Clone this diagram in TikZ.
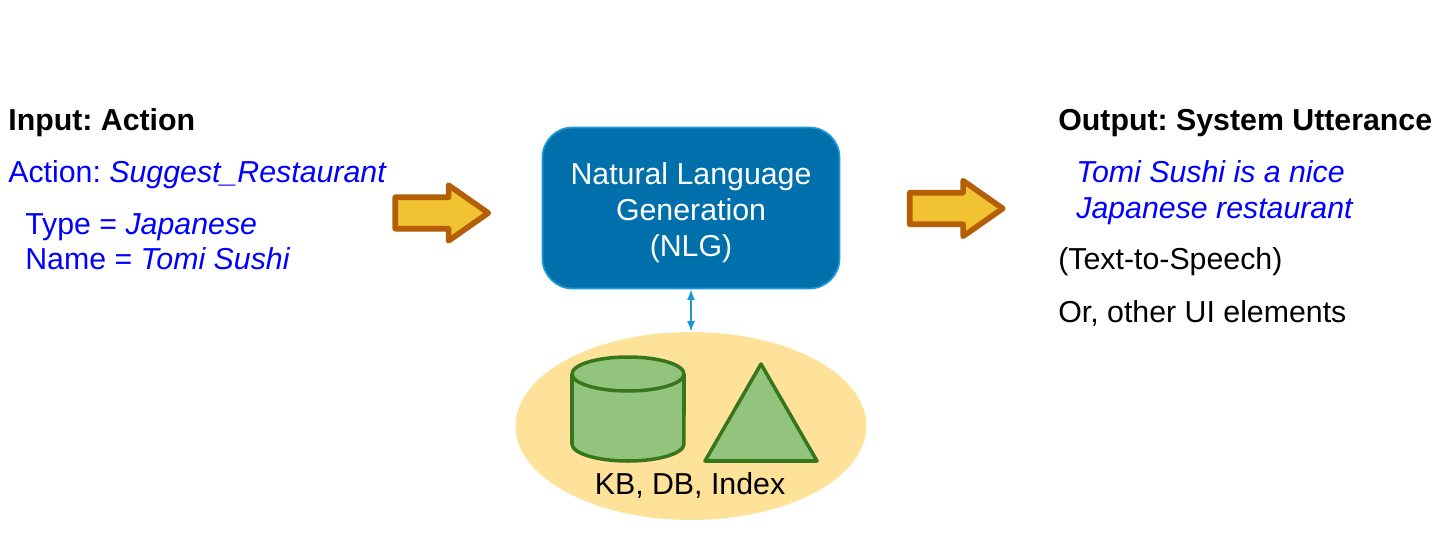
\documentclass[tikz,border=0pt]{standalone}
\usepackage{fontspec}
\setmainfont{Liberation Sans}
\usetikzlibrary{positioning,shapes.geometric,shapes.arrows,arrows.meta}

\definecolor{nlgfill}{HTML}{0070AD}
\definecolor{nlgline}{HTML}{1B98D5}
\definecolor{kbfill}{HTML}{FFE299}
\definecolor{storefill}{HTML}{93C47D}
\definecolor{storeline}{HTML}{38761D}
\definecolor{arrowfill}{HTML}{F1C232}
\definecolor{arrowline}{HTML}{B45F06}
\definecolor{inputblue}{HTML}{0000FF}

\newcommand{\labelfont}{\fontsize{17.25}{20.4}\selectfont\frenchspacing}

\tikzset{
  textlabel/.style={anchor=base west, inner sep=0pt, font=\labelfont},
  bluelabel/.style={textlabel, text=inputblue},
  flowarrow/.style={single arrow, draw=arrowline, fill=arrowfill, line width=3.2pt, line join=round,
    minimum width=1.0cm, minimum height=1.86cm, single arrow head extend=0.24cm, single arrow tip angle=70,
    single arrow head indent=0cm, inner xsep=0pt, inner ysep=0.26cm},
  store/.style={draw=storeline, fill=storefill, line width=2pt, line join=round},
}

\begin{document}
\begin{tikzpicture}[x=0.02cm,y=-0.02cm]
\useasboundingbox (0,0) rectangle (1441,551);

% left column
\node [textlabel, font=\labelfont\bfseries] (input) at (8,130) {Input: Action};
\node [bluelabel] (action) at (8,182.5) {Action: \textit{Suggest\_Restaurant}};
\node [bluelabel] (type) at (25,234.5) {Type = \textit{Japanese}};
\node [bluelabel] (name) at (25,269.5) {Name = \textit{Tomi Sushi}};

% centre
\node [draw=nlgline, fill=nlgfill, line width=1pt, rounded corners=0.6cm,
  minimum width=5.94cm, minimum height=3.22cm] (nlg) at (691,208) {};
\node [text=white, align=center, inner sep=0pt, font=\labelfont] (nlgtext) at (691,212.5)
  {Natural Language\\Generation\\(NLG)};
\node [ellipse, fill=kbfill, minimum width=7.02cm, minimum height=3.76cm, inner sep=0pt] (kb) at (691,426) {};
\draw [{Latex[length=6pt,width=4.5pt]}-{Latex[length=6pt,width=4.5pt]}, nlgline, line width=0.8pt] (nlg.south) -- (kb.north);

% cylinder and triangle
\draw [store] (572,374) -- (572,444) arc [start angle=180, end angle=360, x radius=1.12cm, y radius=0.34cm] -- (684,374);
\draw [store] (628,374) ellipse [x radius=1.12cm, y radius=0.34cm];
\coordinate (top) at (761,364);
\coordinate (left) at (705,461);
\coordinate (right) at (817,461);
\draw [store] (top) -- (right) -- (left) -- cycle;
\node [textlabel, anchor=base] (kblabel) at (690,494.5) {KB, DB, Index};

% arrows
\node [flowarrow] (inarrow) at (430.5,213) {};
\node [flowarrow] (outarrow) at (945,208.5) {};

% right column
\node [textlabel, font=\labelfont\bfseries] (output) at (1058,130) {Output: System Utterance};
\node [bluelabel, font=\labelfont\itshape] (utterone) at (1076,182.5) {Tomi Sushi is a nice};
\node [bluelabel, font=\labelfont\itshape] (uttertwo) at (1076,218.5) {Japanese restaurant};
\node [textlabel] (tts) at (1058,269.5) {(Text-to-Speech)};
\node [textlabel] (other) at (1058,322.5) {Or, other UI elements};
\end{tikzpicture}
\end{document}
